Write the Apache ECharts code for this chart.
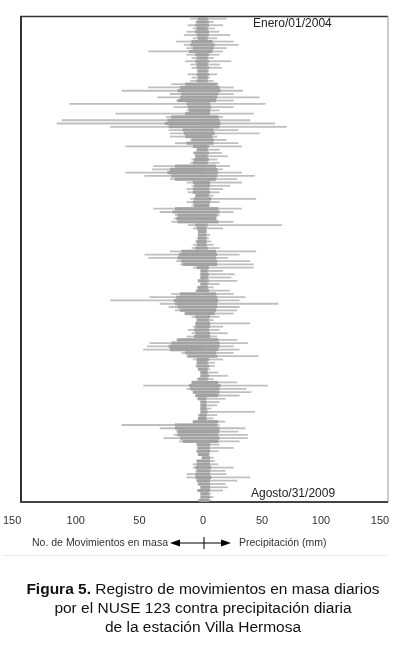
<!DOCTYPE html>
<html><head><meta charset="utf-8">
<script src="https://cdn.jsdelivr.net/npm/echarts@6/dist/echarts.min.js"></script>
<style>html,body{margin:0;padding:0;background:#fff}#c{width:400px;height:661px}</style>
</head><body><div id="c"></div>
<script>
// Daily record, binned top (Jan 1 2004) to bottom (Aug 31 2009)
// longest daily value in each bin
const movimientos = [
  10,6,12,8,13,15,8,21,15,13,43,13,9,14,10,9,5,12,9,10,25,43,64,26,
  36,21,105,23,13,69,29,111,115,73,27,26,26,10,22,61,5,8,6,9,10,39,40,61,46,26,
  13,9,13,12,6,10,13,9,39,34,22,23,25,12,8,4,4,5,6,8,9,26,46,43,21,18,
  8,2,2,2,4,2,5,6,25,42,73,34,27,22,15,9,5,6,8,12,9,13,21,42,44,47,
  17,13,8,5,6,4,2,2,5,9,47,13,8,6,5,2,2,2,2,4,4,8,64,34,21,23,
  31,19,5,5,5,4,1,5,8,8,6,13,13,5,4,2,5,2,2,4
];
const precipitacion = [
  20,9,17,10,14,23,12,26,30,20,17,14,9,24,14,16,5,12,6,9,13,26,34,26,
  48,26,53,26,14,43,17,40,61,71,30,48,12,20,30,33,14,16,21,12,14,23,17,33,44,29,
  33,23,17,14,9,45,14,6,33,26,14,12,26,67,17,3,6,5,7,9,14,45,31,21,40,43,
  43,17,27,24,29,14,9,23,26,36,31,64,31,29,26,14,9,40,17,14,21,12,29,38,26,31,
  26,47,17,10,10,6,13,21,9,29,55,37,41,31,19,14,12,7,44,12,9,19,14,36,30,38,
  38,31,14,26,13,6,9,10,13,26,19,20,40,29,19,21,17,7,9,7
];
// typical (dense, overlapping) extent in each bin
const movimientosTipico = [
  4,5,6,5,6,5,4,9,10,8,11,6,5,6,5,5,4,5,4,5,14,18,20,17,
  18,20,13,12,11,14,25,28,30,27,16,15,14,9,13,8,5,7,6,7,8,22,26,28,25,22,
  8,7,8,8,6,7,8,7,22,24,20,21,20,6,5,4,4,4,5,5,6,17,19,20,17,16,
  5,2,2,2,4,2,4,5,18,21,23,22,20,18,14,6,5,6,6,7,6,7,20,25,27,26,
  14,12,5,5,5,4,2,2,4,9,11,10,8,6,4,2,2,2,2,3,4,8,22,22,20,20,
  18,16,5,4,5,4,1,5,5,6,5,6,6,5,4,2,4,2,2,3
];
const precipitacionTipica = [
  4,5,5,4,5,5,4,8,10,9,8,5,4,5,4,5,4,5,4,4,12,14,15,13,
  12,11,6,7,6,6,13,14,15,14,9,10,8,9,9,5,4,5,4,5,4,11,12,13,12,11,
  6,6,5,6,5,7,6,5,13,14,12,11,13,4,3,3,3,3,3,3,4,11,12,11,12,12,
  5,4,5,4,5,4,4,5,11,12,13,12,12,11,10,6,5,6,6,5,6,6,13,14,14,13,
  11,12,5,4,5,4,4,5,4,13,15,14,14,13,3,3,3,3,4,3,3,13,12,14,14,13,
  14,13,6,6,6,5,6,6,6,7,6,6,7,6,6,6,6,5,6,5
];
const categories = movimientos.map((_, i) => 'P' + (i + 1));
const xTicks = [0, 50, 100, 150];
const startLabel = 'Enero/01/2004';
const endLabel = 'Agosto/31/2009';
const leftLegend = 'No. de Movimientos en masa';
const rightLegend = 'Precipitación (mm)';
const captionLines = [
  '{b|Figura 5.} Registro de movimientos en masa diarios',
  'por el NUSE 123 contra precipitación diaria',
  'de la estación Villa Hermosa'
];

const FONT = 'Liberation Sans, Arial, sans-serif';
const chart = echarts.init(document.getElementById('c'), null, {renderer: 'canvas'});
const axisCommon = {
  type: 'value', min: xTicks[0], max: xTicks[xTicks.length - 1], interval: xTicks[1] - xTicks[0],
  axisLine: {show: false}, axisTick: {show: false}, splitLine: {show: false},
  axisLabel: {margin: 13, color: '#333', fontSize: 11, fontFamily: FONT}
};
const spikeGray = '#bfbfbf';
const coreGray = '#a2a2a2';
const capStyle = {font: '15.5px ' + FONT, fill: '#111', align: 'center', textAlign: 'center', verticalAlign: 'middle', textVerticalAlign: 'middle'};
const yCat = g => ({type: 'category', gridIndex: g, data: categories, inverse: true, show: false});
chart.setOption({
  animation: false,
  backgroundColor: '#fff',
  grid: [
    {left: 12, width: 191, top: 17, height: 485},
    {left: 203, width: 177, top: 17, height: 485}
  ],
  xAxis: [
    Object.assign({}, axisCommon, {gridIndex: 0, inverse: true,
      axisLabel: Object.assign({}, axisCommon.axisLabel, {formatter: v => v === 0 ? '' : String(v)})}),
    Object.assign({}, axisCommon, {gridIndex: 1})
  ],
  yAxis: [yCat(0), yCat(1), yCat(0), yCat(1)],
  series: [
    {type: 'bar', xAxisIndex: 0, yAxisIndex: 0, data: movimientos, barWidth: 1.8,
      itemStyle: {color: spikeGray}, silent: true},
    {type: 'bar', xAxisIndex: 1, yAxisIndex: 1, data: precipitacion, barWidth: 1.8,
      itemStyle: {color: spikeGray}, silent: true},
    {type: 'bar', xAxisIndex: 0, yAxisIndex: 2, data: movimientosTipico, barCategoryGap: '5%',
      itemStyle: {color: coreGray}, silent: true},
    {type: 'bar', xAxisIndex: 1, yAxisIndex: 3, data: precipitacionTipica, barCategoryGap: '5%',
      itemStyle: {color: coreGray}, silent: true}
  ],
  graphic: [
    {type: 'line', shape: {x1: 21, y1: 16, x2: 21, y2: 503}, style: {stroke: '#333', lineWidth: 2}},
    {type: 'line', shape: {x1: 20, y1: 16.5, x2: 388, y2: 16.5}, style: {stroke: '#333', lineWidth: 1.5}},
    {type: 'line', shape: {x1: 388, y1: 16, x2: 388, y2: 502}, style: {stroke: '#999', lineWidth: 1}},
    {type: 'line', shape: {x1: 20, y1: 502, x2: 388, y2: 502}, style: {stroke: '#444', lineWidth: 2}},
    {type: 'text', x: 253, y: 24, style: {text: startLabel, font: '12px ' + FONT, fill: '#222', textVerticalAlign: 'middle', verticalAlign: 'middle'}},
    {type: 'text', x: 251, y: 494, style: {text: endLabel, font: '12px ' + FONT, fill: '#222', textVerticalAlign: 'middle', verticalAlign: 'middle'}},
    {type: 'text', x: 168, y: 543, style: {text: leftLegend, font: '10.5px ' + FONT, fill: '#333', align: 'right', textAlign: 'right', verticalAlign: 'middle', textVerticalAlign: 'middle'}},
    {type: 'text', x: 239, y: 543, style: {text: rightLegend, font: '10.5px ' + FONT, fill: '#333', verticalAlign: 'middle', textVerticalAlign: 'middle'}},
    {type: 'line', shape: {x1: 178, y1: 543, x2: 225, y2: 543}, style: {stroke: '#000', lineWidth: 1.2}},
    {type: 'polygon', shape: {points: [[170, 543], [180, 539.5], [180, 546.5]]}, style: {fill: '#000'}},
    {type: 'polygon', shape: {points: [[231, 543], [221, 539.5], [221, 546.5]]}, style: {fill: '#000'}},
    {type: 'line', shape: {x1: 204, y1: 537, x2: 204, y2: 549}, style: {stroke: '#000', lineWidth: 1}},
    {type: 'line', shape: {x1: 3, y1: 555.5, x2: 388, y2: 555.5}, style: {stroke: '#ececec', lineWidth: 1}},
    {type: 'text', x: 203, y: 590, style: Object.assign({text: captionLines[0], rich: {b: {fontWeight: 'bold', fontSize: 15.5, fontFamily: FONT, fill: '#111'}}}, capStyle)},
    {type: 'text', x: 203, y: 609, style: Object.assign({text: captionLines[1]}, capStyle)},
    {type: 'text', x: 203, y: 628, style: Object.assign({text: captionLines[2]}, capStyle)}
  ]
});
</script></body></html>
